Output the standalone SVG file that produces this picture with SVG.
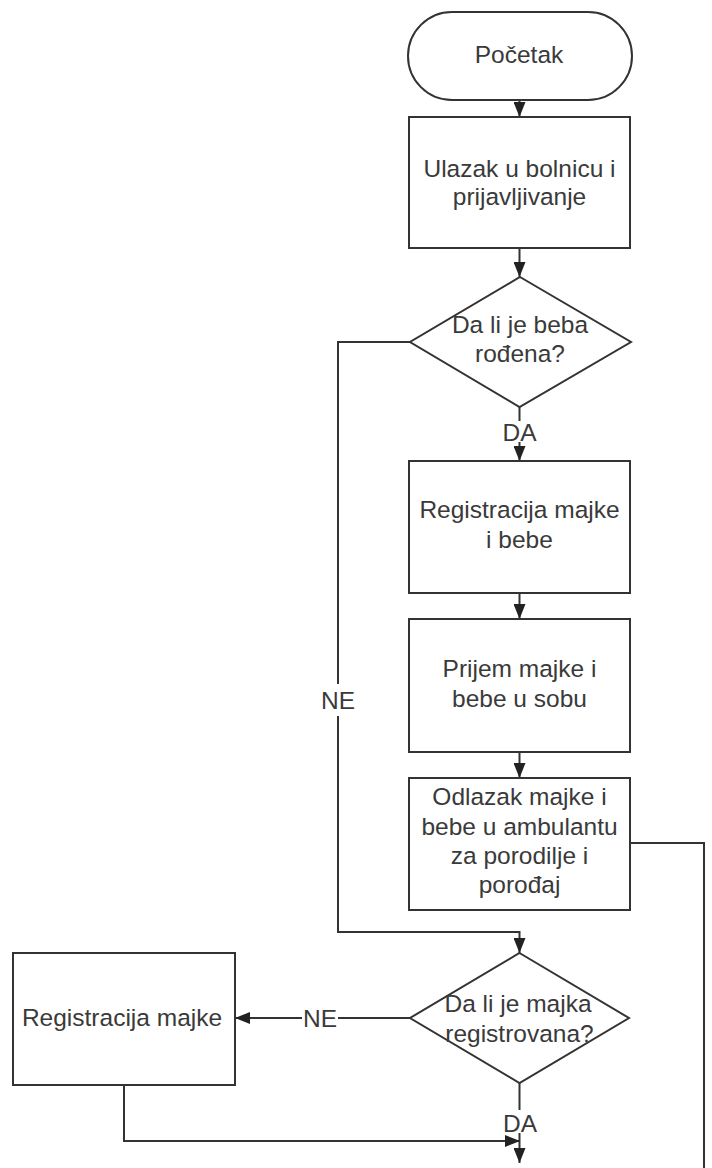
<svg xmlns="http://www.w3.org/2000/svg" width="712" height="1168" viewBox="0 0 712 1168">
<defs>
<style>
.shape{fill:#fff;stroke:#333;stroke-width:2}
.line{fill:none;stroke:#333;stroke-width:2}
.t{font-family:"Liberation Sans",Arial,sans-serif;font-size:24.5px;fill:#3a3a3a;text-anchor:middle}
.lbg{fill:#fff}
</style>
<marker id="ah" markerUnits="userSpaceOnUse" markerWidth="15" markerHeight="12" refX="15" refY="6" orient="auto">
<path d="M0,0 L15,6 L0,12 z" fill="#222"/>
</marker>
</defs>
<rect width="712" height="1168" fill="#fff"/>
<g id="connectors">
<path class="line" d="M519.5,100 V117" marker-end="url(#ah)"/>
<path class="line" d="M519.5,248 V277" marker-end="url(#ah)"/>
<path class="line" d="M519.5,407 V461" marker-end="url(#ah)"/>
<path class="line" d="M519.5,593 V619" marker-end="url(#ah)"/>
<path class="line" d="M519.5,752 V778" marker-end="url(#ah)"/>
<path class="line" d="M410,342 H338 V932 H519.5 V953" marker-end="url(#ah)"/>
<path class="line" d="M630,843 H704 V1168"/>
<path class="line" d="M410,1018 H235" marker-end="url(#ah)"/>
<path class="line" d="M519.5,1083 V1163" marker-end="url(#ah)"/>
<path class="line" d="M124,1085 V1141 H520" marker-end="url(#ah)"/>
<g id="connector-labels">
<rect class="lbg" x="503" y="421" width="34" height="21"/>
<text class="t" x="519.5" y="441">DA</text>
<rect class="lbg" x="322" y="684" width="32" height="32"/>
<text class="t" x="338" y="709">NE</text>
<rect class="lbg" x="302" y="1006" width="36" height="24"/>
<text class="t" x="320" y="1027">NE</text>
<rect class="lbg" x="503" y="1110" width="34" height="23"/>
<text class="t" x="520" y="1132">DA</text>
</g>
</g>
<g id="start">
<rect class="shape" x="408" y="12" width="224" height="88" rx="44" ry="44"/>
<text class="t" x="519" y="63">Početak</text>
</g>
<g id="ulazak">
<rect class="shape" x="409" y="117" width="221" height="131"/>
<text class="t" x="519.5" y="177">Ulazak u bolnicu i</text>
<text class="t" x="519.5" y="205">prijavljivanje</text>
</g>
<g id="beba-rodjena">
<polygon class="shape" points="520,277 631,342 519.5,407 410,342"/>
<text class="t" x="520" y="333">Da li je beba</text>
<text class="t" x="520" y="362">rođena?</text>
</g>
<g id="registracija-majke-bebe">
<rect class="shape" x="409" y="461" width="221" height="132"/>
<text class="t" x="519.5" y="518">Registracija majke</text>
<text class="t" x="519.5" y="548">i bebe</text>
</g>
<g id="prijem">
<rect class="shape" x="409" y="619" width="221" height="133"/>
<text class="t" x="519.5" y="677">Prijem majke i</text>
<text class="t" x="519.5" y="707">bebe u sobu</text>
</g>
<g id="odlazak">
<rect class="shape" x="409" y="778" width="221" height="132"/>
<text class="t" x="519.5" y="805">Odlazak majke i</text>
<text class="t" x="519.5" y="835">bebe u ambulantu</text>
<text class="t" x="519.5" y="864">za porodilje i</text>
<text class="t" x="519.5" y="893">porođaj</text>
</g>
<g id="majka-registrovana">
<polygon class="shape" points="519.5,953 629,1018 519.5,1083 410,1018"/>
<text class="t" x="518" y="1012">Da li je majka</text>
<text class="t" x="519.5" y="1042">registrovana?</text>
</g>
<g id="registracija-majke">
<rect class="shape" x="13" y="953" width="222" height="132"/>
<text class="t" x="122" y="1026">Registracija majke</text>
</g>
</svg>
